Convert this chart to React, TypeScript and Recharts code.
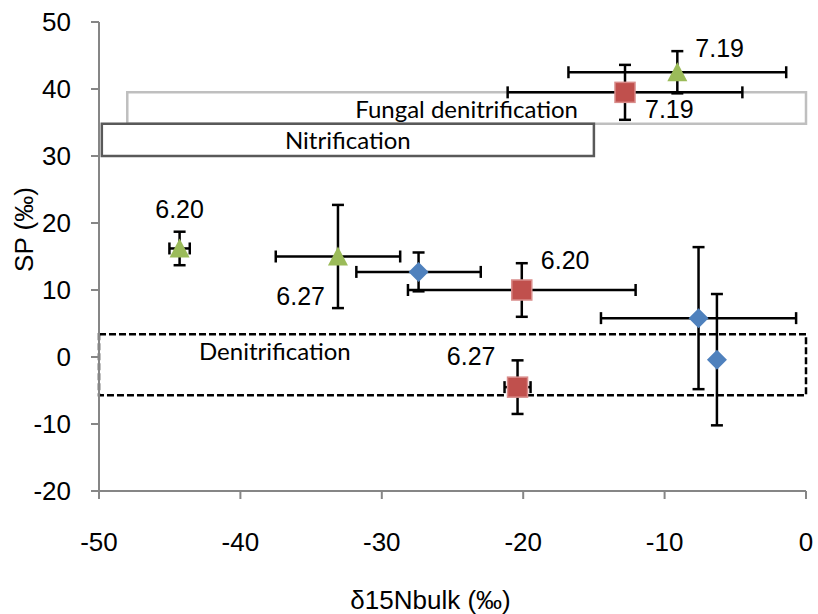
import { ScatterChart, Scatter, XAxis, YAxis, ErrorBar, ReferenceArea, Label } from "recharts";

// series values (x = δ15Nbulk, y = SP, errors are ±)
const blueX = [-27.4, -7.6, -6.3];
const blueY = [12.7, 5.8, -0.4];
const blueXErr = [4.4, 6.9, 0];
const blueYErr = [2.9, 10.6, 9.8];

const redX = [-12.8, -20.1, -20.4];
const redY = [39.5, 10.0, -4.5];
const redXErr = [8.3, 8.05, 0.92];
const redYErr = [4.1, 4.0, 4.0];
const redLabels = ["7.19", "6.20", "6.27"];

const greenX = [-9.1, -33.1, -44.3];
const greenY = [42.5, 15.0, 16.2];
const greenXErr = [7.7, 4.4, 0.72];
const greenYErr = [3.15, 7.7, 2.5];
const greenLabels = ["7.19", "6.27", "6.20"];

const xTicks = [-50, -40, -30, -20, -10, 0];
const yTicks = [-20, -10, 0, 10, 20, 30, 40, 50];

// source boxes: [x1, x2, y1, y2]
const fungalBox = [-48, 0, 34.8, 39.5];
const nitrifBox = [-49.8, -15, 30, 34.8];
const denitrifBox = [-50, 0, -5.7, 3.4];

const toRows = (xs: number[], ys: number[], exs: number[], eys: number[], labels?: string[]) =>
  xs.map((x, i) => ({ x, y: ys[i], ex: exs[i], ey: eys[i], label: labels ? labels[i] : "" }));

const blueData = toRows(blueX, blueY, blueXErr, blueYErr);
const redData = toRows(redX, redY, redXErr, redYErr, redLabels);
const greenData = toRows(greenX, greenY, greenXErr, greenYErr, greenLabels);

const AXIS_FONT = "'Liberation Sans', Arial, sans-serif";
const BOX_FONT = "Lato, 'Open Sans', sans-serif";

// where each point's label sits relative to its marker
const redLabelPos = [
  { dx: 20, dy: 26, anchor: "start" },
  { dx: 19, dy: -21, anchor: "start" },
  { dx: -22, dy: -22, anchor: "end" },
];
const greenLabelPos = [
  { dx: 18, dy: -15, anchor: "start" },
  { dx: -13, dy: 48, anchor: "end" },
  { dx: 0, dy: -30, anchor: "middle" },
];

function PointLabel({ cx, cy, text, pos }: any) {
  if (!text || !pos) return null;
  return (
    <text
      x={cx + pos.dx}
      y={cy + pos.dy}
      textAnchor={pos.anchor}
      fontSize={25}
      fontFamily={AXIS_FONT}
      fill="#000"
    >
      {text}
    </text>
  );
}

function DiamondShape(props: any) {
  const { cx, cy } = props;
  const r = 10;
  return (
    <polygon
      points={`${cx},${cy - r} ${cx + r},${cy} ${cx},${cy + r} ${cx - r},${cy}`}
      fill="#4F81BD"
    />
  );
}

function SquareShape(props: any) {
  const { cx, cy, payload, index } = props;
  return (
    <g>
      <rect x={cx - 10} y={cy - 10} width={20} height={20} fill="#C0504D" stroke="#D98C8A" strokeWidth={1.5} />
      <PointLabel cx={cx} cy={cy} text={payload?.label} pos={redLabelPos[index]} />
    </g>
  );
}

function TriangleShape(props: any) {
  const { cx, cy, payload, index } = props;
  return (
    <g>
      <polygon points={`${cx},${cy - 10} ${cx + 10},${cy + 9} ${cx - 10},${cy + 9}`} fill="#9BBB59" />
      <PointLabel cx={cx} cy={cy} text={payload?.label} pos={greenLabelPos[index]} />
    </g>
  );
}

function boxLabel(text: string, dx: number | null, dy: number) {
  return (props: any) => {
    const { x, y, width, height } = props.viewBox;
    const left = dx !== null;
    return (
      <text
        x={left ? x + (dx as number) : x + width / 2}
        y={y + height / 2 + dy}
        textAnchor={left ? "start" : "middle"}
        dominantBaseline="central"
        fontSize={24}
        fontFamily={BOX_FONT}
        fill="#000"
      >
        {text}
      </text>
    );
  };
}

function XTitle(props: any) {
  const { x, y, width } = props.viewBox;
  return (
    <text x={x + width / 2 - 22} y={y + 118} textAnchor="middle" fontSize={26} fontFamily={AXIS_FONT} fill="#000">
      δ15Nbulk (‰)
    </text>
  );
}

function YTitle(props: any) {
  const { x, y, height } = props.viewBox;
  const cx = x + 33;
  const cy = y + height / 2 - 27;
  return (
    <text
      x={cx}
      y={cy}
      transform={`rotate(-90 ${cx} ${cy})`}
      textAnchor="middle"
      fontSize={26}
      fontFamily={AXIS_FONT}
      fill="#000"
    >
      SP (‰)
    </text>
  );
}

export default function App() {
  const tickStyle = { fill: "#000", fontSize: 26, fontFamily: AXIS_FONT };
  return (
    <div style={{ position: "absolute", left: 0, top: 0, width: 818, height: 614, background: "#fff" }}>
      <ScatterChart width={818} height={614} margin={{ top: 22, right: 12, bottom: 0, left: 0 }}>
        <XAxis
          type="number"
          dataKey="x"
          domain={[-50, 0]}
          ticks={xTicks}
          allowDataOverflow
          height={123}
          tickSize={8}
          tickMargin={34}
          stroke="#868686"
          strokeWidth={2}
          tick={tickStyle}
        >
          <Label content={XTitle} />
        </XAxis>
        <YAxis
          type="number"
          dataKey="y"
          domain={[-20, 50]}
          ticks={yTicks}
          allowDataOverflow
          width={99}
          tickSize={8}
          tickMargin={20}
          stroke="#868686"
          strokeWidth={2}
          tick={tickStyle}
        >
          <Label content={YTitle} />
        </YAxis>

        <Scatter data={blueData} shape={DiamondShape} isAnimationActive={false}>
          <ErrorBar dataKey="ex" direction="x" width={6} stroke="#000" strokeWidth={2.5} />
          <ErrorBar dataKey="ey" direction="y" width={6} stroke="#000" strokeWidth={2.5} />
        </Scatter>
        <Scatter data={redData} shape={SquareShape} isAnimationActive={false}>
          <ErrorBar dataKey="ex" direction="x" width={6} stroke="#000" strokeWidth={2.5} />
          <ErrorBar dataKey="ey" direction="y" width={6} stroke="#000" strokeWidth={2.5} />
        </Scatter>
        <Scatter data={greenData} shape={TriangleShape} isAnimationActive={false}>
          <ErrorBar dataKey="ex" direction="x" width={6} stroke="#000" strokeWidth={2.5} />
          <ErrorBar dataKey="ey" direction="y" width={6} stroke="#000" strokeWidth={2.5} />
        </Scatter>

        <ReferenceArea
          x1={fungalBox[0]}
          x2={fungalBox[1]}
          y1={fungalBox[2]}
          y2={fungalBox[3]}
          fill="none"
          stroke="#BFBFBF"
          strokeWidth={2.5}
          ifOverflow="visible"
          label={boxLabel("Fungal denitrification", null, 0)}
        />
        <ReferenceArea
          x1={nitrifBox[0]}
          x2={nitrifBox[1]}
          y1={nitrifBox[2]}
          y2={nitrifBox[3]}
          fill="none"
          stroke="#595959"
          strokeWidth={2.5}
          ifOverflow="visible"
          label={boxLabel("Nitrification", null, 0)}
        />
        <ReferenceArea
          x1={denitrifBox[0]}
          x2={denitrifBox[1]}
          y1={denitrifBox[2]}
          y2={denitrifBox[3]}
          fill="none"
          stroke="#000"
          strokeWidth={2.5}
          strokeDasharray="7 3"
          ifOverflow="visible"
          label={boxLabel("Denitrification", 100, -14)}
        />
      </ScatterChart>
    </div>
  );
}
